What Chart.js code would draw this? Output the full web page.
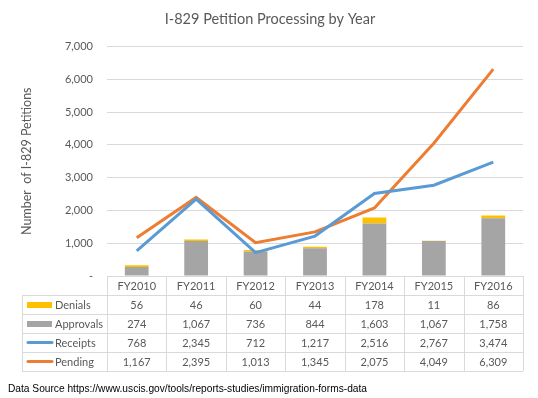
<!DOCTYPE html>
<html>
<head>
<meta charset="utf-8">
<script src="https://cdn.jsdelivr.net/npm/chart.js@4"></script>
<style>
  body { margin: 0; background: #fff; }
</style>
</head>
<body>
<canvas id="canvas" width="538" height="398"></canvas>
<script>
const years = ['FY2010', 'FY2011', 'FY2012', 'FY2013', 'FY2014', 'FY2015', 'FY2016'];
const denials = [56, 46, 60, 44, 178, 11, 86];
const approvals = [274, 1067, 736, 844, 1603, 1067, 1758];
const receipts = [768, 2345, 712, 1217, 2516, 2767, 3474];
const pending = [1167, 2395, 1013, 1345, 2075, 4049, 6309];
const yMax = 7000;
const yStep = 1000;

const textColor = '#595959';
const gridColor = '#d9d9d9';
const font = 'Lato';

const tableRows = [
  { label: 'Denials', values: denials, color: '#FFC000', mark: 'box' },
  { label: 'Approvals', values: approvals, color: '#A5A5A5', mark: 'box' },
  { label: 'Receipts', values: receipts, color: '#5B9BD5', mark: 'line' },
  { label: 'Pending', values: pending, color: '#ED7D31', mark: 'line' },
];

const fmt = (v) => v.toLocaleString('en-US');

// data table under the plot, columns taken from the x scale
const dataTable = {
  id: 'dataTable',
  afterDraw(chart) {
    const { ctx, chartArea, scales } = chart;
    const x = scales.x;
    const top = chartArea.bottom;
    const headH = 19;
    const rowH = 19;
    const tableLeft = 22;
    const colW = (chartArea.right - chartArea.left) / years.length;
    const bodyTop = top + headH;
    const bottom = bodyTop + rowH * tableRows.length;

    ctx.save();
    ctx.strokeStyle = gridColor;
    ctx.lineWidth = 1;
    ctx.beginPath();
    // horizontal lines
    ctx.moveTo(chartArea.left, Math.round(top) + 0.5);
    ctx.lineTo(chartArea.right, Math.round(top) + 0.5);
    for (let r = 0; r <= tableRows.length; r++) {
      const y = Math.round(bodyTop + r * rowH) + 0.5;
      ctx.moveTo(tableLeft, y);
      ctx.lineTo(chartArea.right, y);
    }
    // vertical lines
    for (let i = 0; i <= years.length; i++) {
      const xx = Math.round(chartArea.left + i * colW) + 0.5;
      ctx.moveTo(xx, top);
      ctx.lineTo(xx, bottom);
    }
    ctx.moveTo(tableLeft + 0.5, bodyTop);
    ctx.lineTo(tableLeft + 0.5, bottom);
    ctx.stroke();

    ctx.fillStyle = textColor;
    ctx.font = '11px ' + font;
    ctx.textAlign = 'center';
    ctx.textBaseline = 'middle';
    years.forEach((yr, i) => {
      ctx.fillText(yr, x.getPixelForValue(i), top + headH / 2 + 1);
    });

    tableRows.forEach((row, r) => {
      const cy = bodyTop + r * rowH + rowH / 2;
      if (row.mark === 'box') {
        ctx.fillStyle = row.color;
        ctx.fillRect(27, Math.round(cy) - 3, 25, 6);
      } else {
        ctx.strokeStyle = row.color;
        ctx.lineWidth = 3;
        ctx.lineCap = 'round';
        ctx.beginPath();
        ctx.moveTo(28, cy);
        ctx.lineTo(52, cy);
        ctx.stroke();
      }
      ctx.fillStyle = textColor;
      ctx.textAlign = 'left';
      ctx.fillText(row.label, 55, cy + 1);
      ctx.textAlign = 'center';
      row.values.forEach((v, i) => {
        ctx.fillText(fmt(v), x.getPixelForValue(i), cy + 1);
      });
    });

    ctx.fillStyle = '#000';
    ctx.font = '10.2px "Liberation Sans"';
    ctx.textAlign = 'left';
    ctx.fillText('Data Source https://www.uscis.gov/tools/reports-studies/immigration-forms-data', 8, 389);
    ctx.restore();
  }
};

const canvas = document.getElementById('canvas');

new Chart(canvas, {
  data: {
    labels: years,
    datasets: [
      {
        type: 'line',
        label: 'Receipts',
        data: receipts,
        borderColor: '#5B9BD5',
        borderWidth: 3,
        pointRadius: 0,
        stack: 'receipts',
        order: 0,
      },
      {
        type: 'line',
        label: 'Pending',
        data: pending,
        borderColor: '#ED7D31',
        borderWidth: 3,
        pointRadius: 0,
        stack: 'pending',
        order: 0,
      },
      {
        type: 'bar',
        label: 'Approvals',
        data: approvals,
        backgroundColor: '#A5A5A5',
        stack: 'bars',
        order: 1,
      },
      {
        type: 'bar',
        label: 'Denials',
        data: denials,
        backgroundColor: '#FFC000',
        stack: 'bars',
        order: 1,
      },
    ],
  },
  options: {
    responsive: false,
    animation: false,
    devicePixelRatio: 1,
    layout: { padding: { left: 17, right: 15, top: 0, bottom: 122 } },
    datasets: {
      bar: { categoryPercentage: 1, barPercentage: 0.4 },
    },
    plugins: {
      legend: { display: false },
      tooltip: { enabled: false },
      title: {
        display: true,
        text: 'I-829 Petition Processing by Year',
        color: textColor,
        font: { family: font, size: 14.5, weight: 'normal' },
        padding: { top: 11, bottom: 18 },
      },
    },
    scales: {
      x: {
        display: false,
        stacked: true,
      },
      y: {
        stacked: true,
        min: 0,
        max: yMax,
        border: { display: false },
        grid: { color: gridColor, drawTicks: false },
        ticks: {
          stepSize: yStep,
          padding: 14,
          color: textColor,
          font: { family: font, size: 11 },
          callback: (v) => (v === 0 ? '-' : fmt(v)),
        },
        title: {
          display: true,
          text: 'Number  of I-829 Petitions',
          color: textColor,
          font: { family: font, size: 12.5 },
          padding: { top: 2, bottom: 0 },
        },
        afterFit: (scale) => {
          scale.width = 90;
        },
      },
    },
  },
  plugins: [dataTable],
});
</script>
</body>
</html>
